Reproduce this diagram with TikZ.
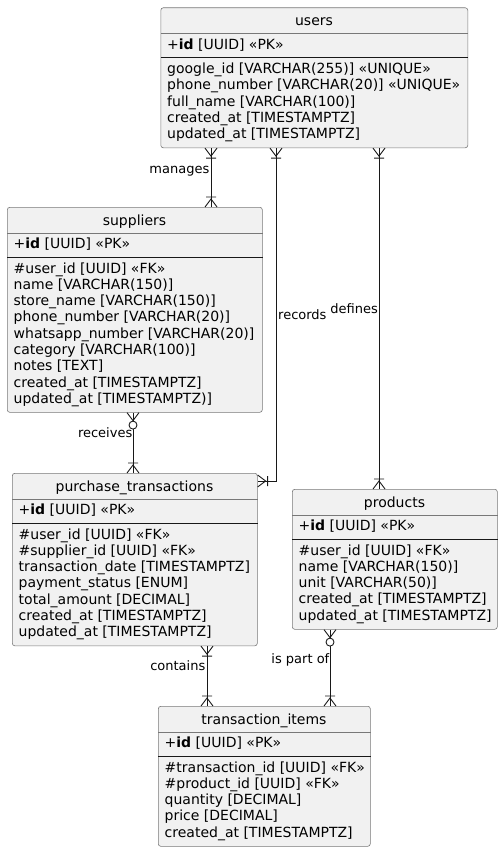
\documentclass[tikz,border=0pt]{standalone}
\usepackage{fontspec}
\setmainfont{DejaVu Sans}
\usetikzlibrary{calc}
\definecolor{entF}{RGB}{241,241,241}
\definecolor{entB}{RGB}{120,120,120}
\definecolor{relK}{RGB}{24,24,24}
\tikzset{
  ent/.style={draw=entB, fill=entF, rounded corners=2.5pt, line width=0.6pt, anchor=north west, inner sep=0pt},
  ttl/.style={font=\fontsize{14}{16}\selectfont, anchor=base, inner sep=0pt},
  row/.style={font=\fontsize{14}{16}\selectfont, anchor=base west, inner sep=0pt},
  lbl/.style={font=\fontsize{13}{15}\selectfont, inner sep=0pt},
  sepT/.style={draw=entB, line width=0.6pt},
  sepK/.style={draw=relK, line width=0.9pt},
  rel/.style={draw=relK, line width=0.9pt},
  crowbar/.pic={\draw[rel] (0,-6) -- (8,0) -- (0,6) (10,-5) -- (10,5);},
  crowring/.pic={\draw[rel] (0,-6) -- (8,0) -- (0,6);
    \draw[rel, fill=white] (12.5,0) circle[radius=4pt];}
}
\begin{document}
\begin{tikzpicture}[x=1pt, y=-1pt]
\useasboundingbox (0,0) rectangle (503,851);
% ---- boxes ----
\node[ent, minimum width=307pt, minimum height=140pt] (users) at (160.5,7.5) {};
\node[ent, minimum width=255pt, minimum height=205pt] (suppliers) at (7,207) {};
\node[ent, minimum width=245pt, minimum height=172.5pt] (purchases) at (12,473) {};
\node[ent, minimum width=205pt, minimum height=140pt] (products) at (292,489) {};
\node[ent, minimum width=212pt, minimum height=140pt] (items) at (158,706) {};
% separators: title (gray) and key (dark)
\foreach \e in {users,suppliers,purchases,products,items}{
  \draw[sepT] ($(\e.north west)+(0,26)$) -- ($(\e.north east)+(0,26)$);
  \draw[sepK] ($(\e.north west)+(0,50)$) -- ($(\e.north east)+(0,50)$);
}
% ---- users ----
\begin{scope}[shift={(users.north west)}]
\node[ttl] (users-t) at (153.5,18.5) {users};
\node[row] (users-pk) at (6.5,41.5) {+\textbf{id} [UUID] «PK»};
\foreach \r [count=\k from 0] in {google\_id [VARCHAR(255)] «UNIQUE»,
  phone\_number [VARCHAR(20)] «UNIQUE», full\_name [VARCHAR(100)],
  created\_at [TIMESTAMPTZ], updated\_at [TIMESTAMPTZ]}
  \node[row] (users-\k) at ({6.5},{66+16.3*\k}) {\r};
\end{scope}
% ---- suppliers ----
\begin{scope}[shift={(suppliers.north west)}]
\node[ttl] (suppliers-t) at (127.5,18.5) {suppliers};
\node[row] (suppliers-pk) at (6.5,41.5) {+\textbf{id} [UUID] «PK»};
\foreach \r [count=\k from 0] in {\#user\_id [UUID] «FK», name [VARCHAR(150)],
  store\_name [VARCHAR(150)], phone\_number [VARCHAR(20)],
  whatsapp\_number [VARCHAR(20)], category [VARCHAR(100)], notes [TEXT],
  created\_at [TIMESTAMPTZ], updated\_at [TIMESTAMPTZ)]}
  \node[row] (suppliers-\k) at ({6.5},{66+16.3*\k}) {\r};
\end{scope}
% ---- purchase_transactions ----
\begin{scope}[shift={(purchases.north west)}]
\node[ttl] (purchases-t) at (122.5,18.5) {purchase\_transactions};
\node[row] (purchases-pk) at (6.5,41.5) {+\textbf{id} [UUID] «PK»};
\foreach \r [count=\k from 0] in {\#user\_id [UUID] «FK», \#supplier\_id [UUID] «FK»,
  transaction\_date [TIMESTAMPTZ], payment\_status [ENUM],
  total\_amount [DECIMAL], created\_at [TIMESTAMPTZ], updated\_at [TIMESTAMPTZ]}
  \node[row] (purchases-\k) at ({6.5},{66+16.3*\k}) {\r};
\end{scope}
% ---- products ----
\begin{scope}[shift={(products.north west)}]
\node[ttl] (products-t) at (102.5,18.5) {products};
\node[row] (products-pk) at (6.5,41.5) {+\textbf{id} [UUID] «PK»};
\foreach \r [count=\k from 0] in {\#user\_id [UUID] «FK», name [VARCHAR(150)],
  unit [VARCHAR(50)], created\_at [TIMESTAMPTZ], updated\_at [TIMESTAMPTZ]}
  \node[row] (products-\k) at ({6.5},{66+16.3*\k}) {\r};
\end{scope}
% ---- transaction_items ----
\begin{scope}[shift={(items.north west)}]
\node[ttl] (items-t) at (106,18.5) {transaction\_items};
\node[row] (items-pk) at (6.5,41.5) {+\textbf{id} [UUID] «PK»};
\foreach \r [count=\k from 0] in {\#transaction\_id [UUID] «FK», \#product\_id [UUID] «FK»,
  quantity [DECIMAL], price [DECIMAL], created\_at [TIMESTAMPTZ]}
  \node[row] (items-\k) at ({6.5},{66+16.3*\k}) {\r};
\end{scope}
% ---- relations ----
\draw[rel] ($(users.south west)+(50.5,0)$) -- ($(suppliers.north west)+(204,0)$);
\draw[rel] ($(users.south west)+(115.5,0)$) |- ($(purchases.north east)+(0,8)$);
\draw[rel] ($(users.south west)+(218.5,0)$) -- ($(products.north west)+(87,0)$);
\draw[rel] ($(suppliers.south west)+(126,0)$) -- ($(purchases.north west)+(121,0)$);
\draw[rel] ($(purchases.south west)+(195,0)$) -- ($(items.north west)+(49,0)$);
\draw[rel] ($(products.south west)+(38,0)$) -- ($(items.north west)+(172,0)$);
% ends
\path ($(users.south west)+(50.5,0)$) pic[rotate=-90] {crowbar};
\path ($(users.south west)+(115.5,0)$) pic[rotate=-90] {crowbar};
\path ($(users.south west)+(218.5,0)$) pic[rotate=-90] {crowbar};
\path ($(suppliers.north west)+(204,0)$) pic[rotate=90] {crowbar};
\path ($(purchases.north east)+(0,8)$) pic {crowbar};
\path ($(products.north west)+(87,0)$) pic[rotate=90] {crowbar};
\path ($(suppliers.south west)+(126,0)$) pic[rotate=-90] {crowring};
\path ($(purchases.north west)+(121,0)$) pic[rotate=90] {crowbar};
\path ($(purchases.south west)+(195,0)$) pic[rotate=-90] {crowbar};
\path ($(items.north west)+(49,0)$) pic[rotate=90] {crowbar};
\path ($(products.south west)+(38,0)$) pic[rotate=-90] {crowring};
\path ($(items.north west)+(172,0)$) pic[rotate=90] {crowbar};
% labels
\node[lbl, anchor=base east] (l-manages) at (209.5,173) {manages};
\node[lbl, anchor=base west] (l-records) at (278,319) {records};
\node[lbl, anchor=base east] (l-defines) at (378,313) {defines};
\node[lbl, anchor=base east] (l-receives) at (132.5,437) {receives};
\node[lbl, anchor=base east] (l-contains) at (205.5,670) {contains};
\node[lbl, anchor=base east] (l-partof) at (329.5,663) {is part of};
\end{tikzpicture}
\end{document}
